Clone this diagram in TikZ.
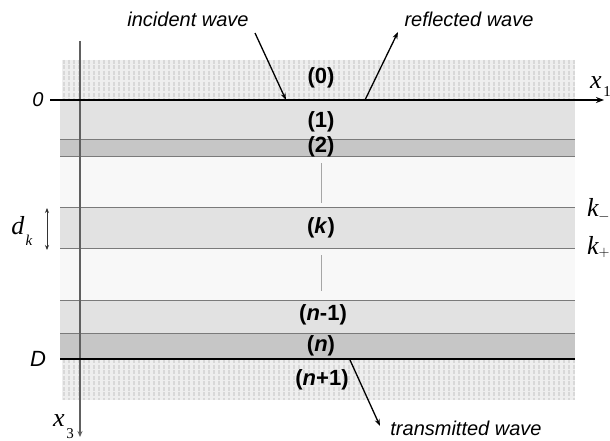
\documentclass[tikz,border=0pt]{standalone}
\usepackage{fontspec}
\setmainfont{Liberation Serif}
\newfontfamily\arial{Liberation Sans}
\usetikzlibrary{arrows.meta}
\definecolor{layL}{HTML}{E2E2E2}
\definecolor{layD}{HTML}{C6C6C6}
\definecolor{layW}{HTML}{F8F8F8}
\definecolor{hatB}{HTML}{EEEEEE}
\definecolor{hatS}{HTML}{D8D8D8}
\definecolor{sepC}{HTML}{7A7A7A}
\tikzset{
  lbl/.style={font=\arial\bfseries\fontsize{22}{22}\selectfont, inner sep=0pt},
  wavetxt/.style={font=\arial\itshape\fontsize{20}{20}\selectfont, inner sep=0pt},
  mathtxt/.style={font=\itshape\fontsize{26}{26}\selectfont, inner sep=0pt},
  subtxt/.style={font=\fontsize{15}{15}\selectfont, inner sep=0pt},
  sep/.style={draw=sepC, line width=1pt},
  bound/.style={draw=black, line width=1.8pt},
  wave/.style={draw=black, line width=1.3pt, -{Stealth[length=7pt,width=5pt]}},
  hatch/.style={draw=hatS, line width=1.8pt, dash pattern=on 4pt off 1.5pt},
}
\begin{document}
\begin{tikzpicture}[x=1pt,y=-1pt]
\useasboundingbox (0,0) rectangle (610,441);
\fill[white] (0,0) rectangle (610,441);
% hatched half-spaces
\fill[hatB] (62,60) rectangle (575,100);
\fill[hatB] (62,359) rectangle (575,400);
\foreach \xx in {64,69,...,574} {
  \draw[hatch] (\xx,60) -- (\xx,100);
  \draw[hatch] (\xx,359) -- (\xx,400);
}
% layers
\fill[layL] (60,100) rectangle (575,139);
\fill[layD] (60,139) rectangle (575,156);
\fill[layW] (60,156) rectangle (575,207);
\fill[layL] (60,207) rectangle (575,248);
\fill[layW] (60,248) rectangle (575,300);
\fill[layL] (60,300) rectangle (575,333);
\fill[layD] (60,333) rectangle (575,359);
% separators
\draw[sep] (60,139) -- (575,139);
\draw[sep] (60,156) -- (575,156);
\draw[sep] (60,207) -- (575,207);
\draw[sep] (60,248) -- (575,248);
\draw[sep] (60,300) -- (575,300);
\draw[sep] (60,333) -- (575,333);
% continuation marks
\draw[draw=gray!70, line width=0.8pt] (321,163) -- (321,203);
\draw[draw=gray!70, line width=0.8pt] (321,255) -- (321,291);
% x3 axis
\coordinate (x3s) at (80,41);
\coordinate (x3e) at (80,437);
\draw[draw=gray!75!black, line width=1.2pt, -{Stealth[length=6pt,width=5pt]}] (x3s) -- (x3e);
% boundaries
\draw[bound] (60,359) -- (575,359);
\coordinate (x1s) at (50,100);
\coordinate (x1e) at (604,100);
\draw[bound, -{Stealth[length=8pt,width=6pt]}] (x1s) -- (x1e);
% labels of layers
\node[lbl] (l0) at (321,78) {(0)};
\node[lbl] (l1) at (321,122) {(1)};
\node[lbl] (l2) at (321,147) {(2)};
\node[lbl] (lk) at (321,228) {(\textit{k})};
\node[lbl] (ln1) at (323,315) {(\textit{n}-1)};
\node[lbl] (ln) at (321,346) {(\textit{n})};
\node[lbl] (lnp) at (322,380) {(\textit{n}+1)};
% waves
\node[wavetxt] (inc) at (188,19) {incident wave};
\node[wavetxt] (ref) at (469,19) {reflected wave};
\node[wavetxt] (tra) at (466,428) {transmitted wave};
\coordinate (incS) at (255,33);
\coordinate (incE) at (286,100);
\coordinate (refS) at (365,100);
\coordinate (refE) at (398,32);
\coordinate (traS) at (350,360);
\coordinate (traE) at (380,426);
\draw[wave] (incS) -- (incE);
\draw[wave] (refS) -- (refE);
\draw[wave] (traS) -- (traE);
% axis / depth labels
\node[font=\arial\itshape\fontsize{20}{20}\selectfont, inner sep=0pt] (zero) at (38,100) {0};
\node[font=\arial\itshape\fontsize{22}{22}\selectfont, inner sep=0pt] (dD) at (38,359) {D};
\node[mathtxt] (x1) at (596,83) {x};
\node[subtxt] (x1s1) at (607,92) {1};
\node[mathtxt] (x3) at (59,421) {x};
\node[subtxt] (x3s3) at (70,434) {3};
\node[mathtxt] (km) at (593,207) {k};
\node[subtxt] (kmm) at (604,217) {$-$};
\node[mathtxt] (kp) at (593,245) {k};
\node[subtxt] (kpp) at (604,253) {$+$};
\node[mathtxt] (dk) at (18,226) {d};
\node[subtxt] (dks) at (29,240) {\itshape k};
\coordinate (dkT) at (47,208);
\coordinate (dkB) at (47,250);
\draw[draw=gray!40!black, line width=0.8pt, {Stealth[length=5pt,width=4pt]}-{Stealth[length=5pt,width=4pt]}] (dkT) -- (dkB);
\end{tikzpicture}
\end{document}
